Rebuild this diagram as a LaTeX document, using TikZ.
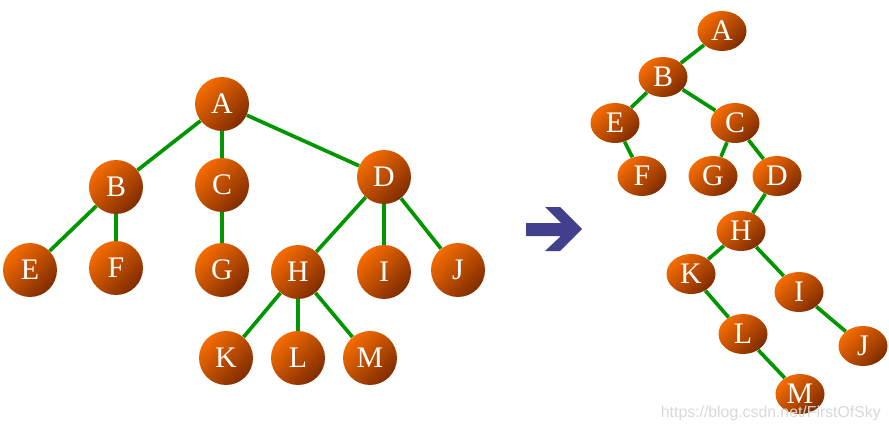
\documentclass[tikz,border=0pt]{standalone}
\usepackage{fontspec}
\setmainfont{Liberation Serif}
\newfontfamily\marcafont{Liberation Sans}
\usetikzlibrary{shapes.geometric}
\definecolor{naranja}{RGB}{246,108,0}
\definecolor{marron}{RGB}{128,44,0}
\definecolor{verde}{RGB}{0,150,0}
\definecolor{flecha}{RGB}{64,64,140}
\definecolor{marca}{RGB}{216,216,216}

\begin{document}
\begin{tikzpicture}[
        x=0.02cm, y=-0.02cm,
        nodo/.style={circle, minimum size=1.08cm, inner sep=0pt, text=white,
            top color=naranja, bottom color=marron, shading angle=45,
            font=\fontsize{17}{17}\selectfont},
        nodob/.style={ellipse, minimum width=0.98cm, minimum height=0.8cm, inner sep=0pt, text=white,
            top color=naranja, bottom color=marron, shading angle=45,
            font=\fontsize{17}{17}\selectfont},
        arista/.style={draw=verde, line width=2.1pt}
    ]
        \useasboundingbox (0,0) rectangle (889,433);

        % Arbol original
        \node[nodo] (a) at (222,104) {A};
        \node[nodo] (b) at (116,187) {B};
        \node[nodo] (c) at (222,185) {C};
        \node[nodo] (d) at (384,177) {D};
        \node[nodo] (e) at (30,270) {E};
        \node[nodo] (f) at (116,268) {F};
        \node[nodo] (g) at (222,270) {G};
        \node[nodo] (h) at (298,272) {H};
        \node[nodo] (i) at (384,272) {I};
        \node[nodo] (j) at (458,270) {J};
        \node[nodo] (k) at (226,358) {K};
        \node[nodo] (l) at (298,358) {L};
        \node[nodo] (m) at (370,358) {M};

        \draw[arista] (a) -- (b);
        \draw[arista] (a) -- (c);
        \draw[arista] (a) -- (d);
        \draw[arista] (b) -- (e);
        \draw[arista] (b) -- (f);
        \draw[arista] (c) -- (g);
        \draw[arista] (d) -- (h);
        \draw[arista] (d) -- (i);
        \draw[arista] (d) -- (j);
        \draw[arista] (h) -- (k);
        \draw[arista] (h) -- (l);
        \draw[arista] (h) -- (m);

        % Flecha
        \fill[flecha] (526,223) -- (561,223) -- (545,207) -- (560,207) -- (582,229)
            -- (560,251) -- (545,251) -- (561,236) -- (526,236) -- cycle;

        % Arbol binario
        \node[nodob] (a2) at (722,31) {A};
        \node[nodob] (b2) at (663,77) {B};
        \node[nodob] (e2) at (615,123) {E};
        \node[nodob] (c2) at (735,123) {C};
        \node[nodob] (f2) at (642,176) {F};
        \node[nodob] (g2) at (713,176) {G};
        \node[nodob] (d2) at (777,176) {D};
        \node[nodob] (h2) at (741,231) {H};
        \node[nodob] (k2) at (691,274) {K};
        \node[nodob] (i2) at (799,292) {I};
        \node[nodob] (l2) at (743,334) {L};
        \node[nodob] (j2) at (863,346) {J};
        \node[nodob] (m2) at (800,394) {M};

        \draw[arista] (a2) -- (b2);
        \draw[arista] (b2) -- (e2);
        \draw[arista] (b2) -- (c2);
        \draw[arista] (e2) -- (f2);
        \draw[arista] (c2) -- (g2);
        \draw[arista] (c2) -- (d2);
        \draw[arista] (d2) -- (h2);
        \draw[arista] (h2) -- (k2);
        \draw[arista] (h2) -- (i2);
        \draw[arista] (k2) -- (l2);
        \draw[arista] (i2) -- (j2);
        \draw[arista] (l2) -- (m2);

        % Marca de agua
        \node[anchor=east, text=marca, font=\marcafont\fontsize{9}{9}\selectfont, inner sep=0pt]
            (marca) at (881,413) {https://blog.csdn.net/FirstOfSky};
    \end{tikzpicture}
\end{document}
